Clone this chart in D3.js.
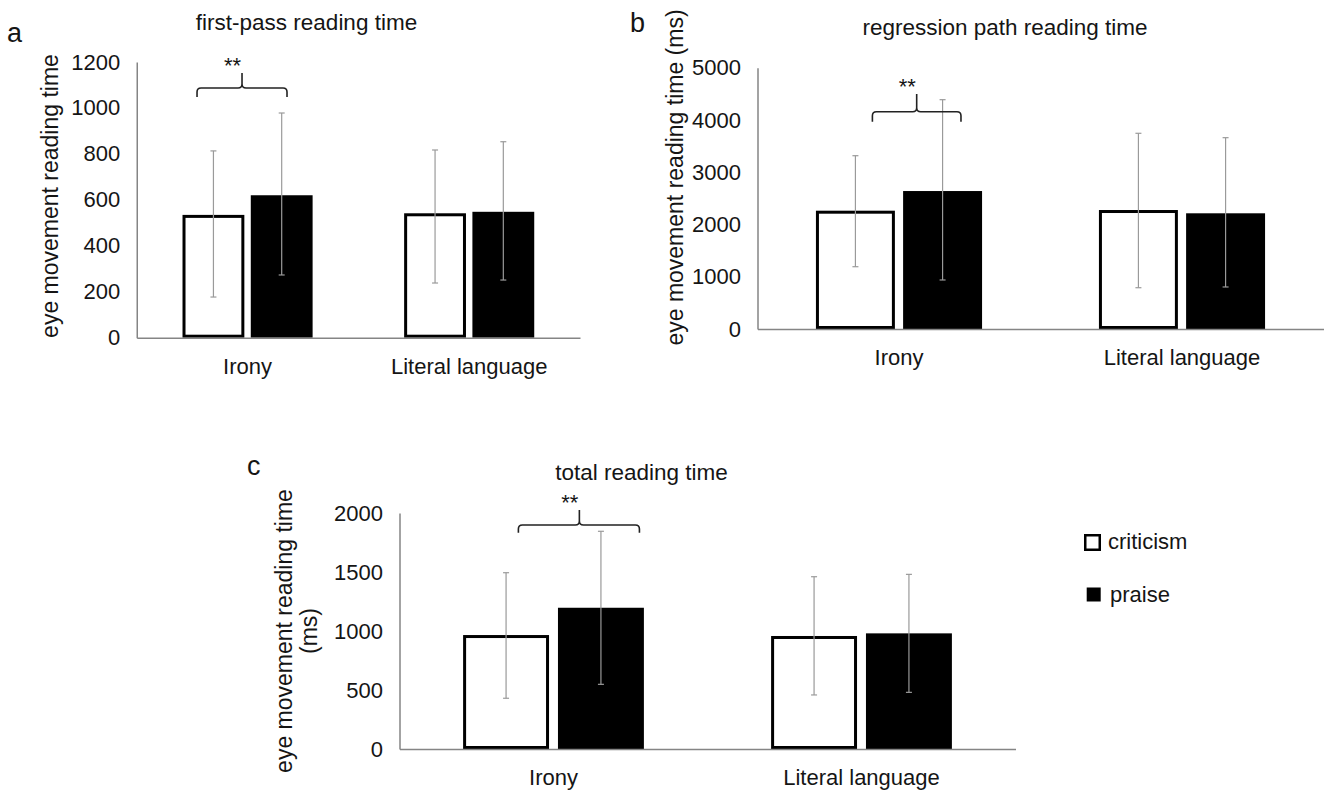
<!DOCTYPE html>
<html>
<head>
<meta charset="utf-8">
<script src="https://cdn.jsdelivr.net/npm/d3@7"></script>
<style>
  html, body { margin: 0; padding: 0; background: #ffffff; }
  svg { display: block; }
  text { font-family: "Liberation Sans", Arial, sans-serif; fill: #151515; }
</style>
</head>
<body>
<svg id="chart" width="1325" height="790"></svg>
<script>
// ---------------- data ----------------
const categories = ["Irony", "Literal language"];
const series = ["criticism", "praise"];

// a: first-pass reading time
const firstPassTicks = [0, 200, 400, 600, 800, 1000, 1200];
const firstPassCriticism = [528, 535];
const firstPassPraise = [620, 548];
const firstPassCriticismErr = [[177, 813], [238, 817]];
const firstPassPraiseErr = [[273, 978], [251, 853]];
const firstPassBracket = { band: "Irony", pos: [0.272, 0.475, 0.678], val: [1048, 1087, 1152] };

// b: regression path reading time
const regressionTicks = [0, 1000, 2000, 3000, 4000, 5000];
const regressionCriticism = [2235, 2248];
const regressionPraise = [2640, 2214];
const regressionCriticismErr = [[1192, 3316], [790, 3745]];
const regressionPraiseErr = [[938, 4388], [804, 3661]];
const regressionBracket = { band: "Irony", pos: [0.406, 0.5625, 0.719], val: [3967, 4158, 4497] };

// c: total reading time
const totalTicks = [0, 500, 1000, 1500, 2000];
const totalCriticism = [953, 945];
const totalPraise = [1197, 980];
const totalCriticismErr = [[430, 1494], [458, 1460]];
const totalPraiseErr = [[548, 1845], [480, 1480]];
const totalBracket = { band: "Irony", pos: [0.386, 0.584, 0.779], val: [1833, 1898, 2025] };

const significance = "**";

// ---------------- layout ----------------
const panels = [
  { letter: "a", title: "first-pass reading time", yLabel: ["eye movement reading time"],
    ticks: firstPassTicks, crit: firstPassCriticism, praise: firstPassPraise,
    critErr: firstPassCriticismErr, praiseErr: firstPassPraiseErr, bracket: firstPassBracket,
    left: 136.75, right: 580, bottom: 337.7, top: 62,
    letterPos: [7, 42], titlePos: [306.5, 30], yLabelX: [50], yLabelY: 196 },
  { letter: "b", title: "regression path reading time", yLabel: ["eye movement reading time (ms)"],
    ticks: regressionTicks, crit: regressionCriticism, praise: regressionPraise,
    critErr: regressionCriticismErr, praiseErr: regressionPraiseErr, bracket: regressionBracket,
    left: 757.5, right: 1323.5, bottom: 329, top: 67.7,
    letterPos: [630, 32], titlePos: [1005, 35], yLabelX: [675], yLabelY: 177.5 },
  { letter: "c", title: "total reading time", yLabel: ["eye movement reading time", "(ms)"],
    ticks: totalTicks, crit: totalCriticism, praise: totalPraise,
    critErr: totalCriticismErr, praiseErr: totalPraiseErr, bracket: totalBracket,
    left: 399.5, right: 1015.5, bottom: 749, top: 513,
    letterPos: [247, 475], titlePos: [641.5, 480], yLabelX: [284, 309], yLabelY: 631 }
];

const svg = d3.select("#chart");
svg.append("rect").attr("width", 1325).attr("height", 790).attr("fill", "#ffffff");

const AXIS_COLOR = "#858585";
const ERR_COLOR = "#9a9a9a";
const FS = 22;

panels.forEach(p => {
  const g = svg.append("g");
  const yMax = p.ticks[p.ticks.length - 1];
  const y = d3.scaleLinear().domain([0, yMax]).range([p.bottom, p.top]);
  const x0 = d3.scaleBand().domain(categories).range([p.left, p.right]).padding(0);
  const band = x0.bandwidth();
  const off = 0.154 * band, w = 0.279 * band;
  const x1 = d3.scaleBand().domain(series)
    .range([band / 2 - off - w / 2, band / 2 + off + w / 2])
    .paddingInner(1 - w / (2 * off)).paddingOuter(0);

  // y axis
  const ya = g.append("g").attr("transform", `translate(${p.left},0)`)
    .call(d3.axisLeft(y).tickValues(p.ticks).tickSize(0).tickSizeOuter(0).tickPadding(16.5).tickFormat(d3.format("d")));
  ya.select(".domain").attr("stroke", AXIS_COLOR).attr("stroke-width", 1.5);
  ya.selectAll("text").attr("font-size", FS).attr("font-family", "Liberation Sans, Arial, sans-serif").attr("fill", "#151515");

  // bars
  const rows = categories.map((c, i) => ({ c, crit: p.crit[i], praise: p.praise[i], ce: p.critErr[i], pe: p.praiseErr[i] }));
  rows.forEach(r => {
    const xc = x0(r.c) + x1("criticism");
    const xp = x0(r.c) + x1("praise");
    const bw = x1.bandwidth();
    g.append("rect").attr("x", xc + 1.5).attr("y", y(r.crit))
      .attr("width", bw - 3).attr("height", y(0) - y(r.crit) - 1.5)
      .attr("fill", "#ffffff").attr("stroke", "#000").attr("stroke-width", 3);
    g.append("rect").attr("x", xp).attr("y", y(r.praise))
      .attr("width", bw).attr("height", y(0) - y(r.praise))
      .attr("fill", "#000");
    [[xc + bw / 2, r.ce], [xp + bw / 2, r.pe]].forEach(([cx, e]) => {
      g.append("line").attr("x1", cx).attr("x2", cx).attr("y1", y(e[0])).attr("y2", y(e[1]))
        .attr("stroke", ERR_COLOR).attr("stroke-width", 1.2);
      e.forEach(v => g.append("line").attr("x1", cx - 3).attr("x2", cx + 3).attr("y1", y(v)).attr("y2", y(v))
        .attr("stroke", ERR_COLOR).attr("stroke-width", 1.2));
    });
  });

  // x axis
  const xa = g.append("g").attr("transform", `translate(0,${p.bottom})`)
    .call(d3.axisBottom(x0).tickSize(0).tickSizeOuter(0).tickPadding(20.5));
  xa.select(".domain").attr("stroke", AXIS_COLOR).attr("stroke-width", 1.5);
  xa.selectAll("text").attr("font-size", FS).attr("font-family", "Liberation Sans, Arial, sans-serif").attr("fill", "#151515");

  // bracket
  const b = p.bracket;
  const bx = b.pos.map(f => x0(b.band) + f * band);
  const yEnd = y(b.val[0]), yH = y(b.val[1]), yPk = y(b.val[2]);
  const r = 4;
  const path = `M${bx[0]},${yEnd} L${bx[0]},${yH + r} Q${bx[0]},${yH} ${bx[0] + r},${yH} L${bx[1] - r},${yH} Q${bx[1]},${yH} ${bx[1]},${yH - r} L${bx[1]},${yPk}` +
    ` M${bx[2]},${yEnd} L${bx[2]},${yH + r} Q${bx[2]},${yH} ${bx[2] - r},${yH} L${bx[1] + r},${yH} Q${bx[1]},${yH} ${bx[1]},${yH - r}`;
  g.append("path").attr("d", path).attr("fill", "none").attr("stroke", "#222").attr("stroke-width", 1.6);
  g.append("text").attr("x", bx[1] - 9.5).attr("y", yPk).attr("text-anchor", "middle")
    .attr("font-size", FS).text(significance);

  // titles, letters, y labels
  g.append("text").attr("x", p.titlePos[0]).attr("y", p.titlePos[1]).attr("text-anchor", "middle")
    .attr("font-size", 22.5).text(p.title);
  g.append("text").attr("x", p.letterPos[0]).attr("y", p.letterPos[1]).attr("font-size", 27).text(p.letter);
  p.yLabel.forEach((t, i) => {
    g.append("text").attr("transform", `translate(${p.yLabelX[i]},${p.yLabelY}) rotate(-90)`)
      .attr("text-anchor", "middle").attr("dy", "0.35em").attr("font-size", 23).text(t);
  });
});

// legend
const legend = svg.append("g");
legend.append("rect").attr("x", 1085.25).attr("y", 535.25).attr("width", 14.5).attr("height", 14.5)
  .attr("fill", "#fff").attr("stroke", "#000").attr("stroke-width", 2.5);
legend.append("text").attr("x", 1108).attr("y", 549).attr("font-size", FS).text(series[0]);
legend.append("rect").attr("x", 1086.7).attr("y", 587.5).attr("width", 14).attr("height", 14).attr("fill", "#000");
legend.append("text").attr("x", 1110).attr("y", 601.5).attr("font-size", FS).text(series[1]);
</script>
</body>
</html>
